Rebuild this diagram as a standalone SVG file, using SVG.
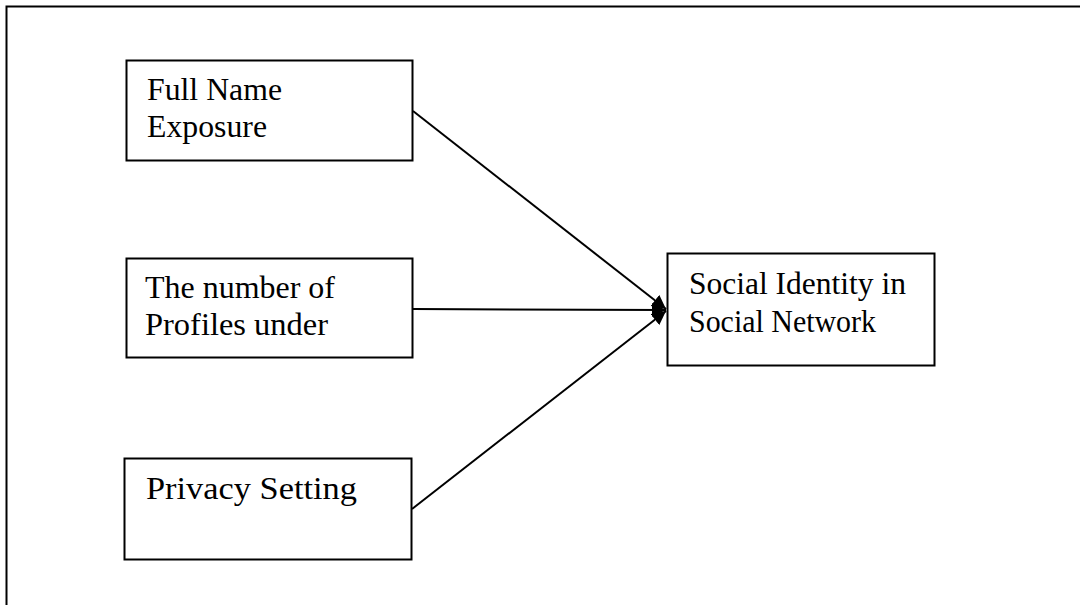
<svg xmlns="http://www.w3.org/2000/svg" width="1080" height="605" viewBox="0 0 1080 605">
<style>
.frame{fill:none;stroke:#000;stroke-width:2}
.box{fill:#fff;stroke:#000;stroke-width:2}
.lbl{font-family:"Liberation Serif","Times New Roman",serif;font-size:31px;fill:#000}
.conn{stroke:#000;stroke-width:2;fill:none}
</style>
<defs>
<marker id="ah" viewBox="0 0 10 10" refX="10" refY="5" markerWidth="7" markerHeight="7" orient="auto" markerUnits="strokeWidth">
<path d="M0,0 L10,5 L0,10 z" fill="#000"/>
</marker>
</defs>
<rect class="frame" x="6.5" y="6.5" width="1100" height="640"/>
<g id="connectors">
<line class="conn" x1="413" y1="111" x2="666" y2="309" marker-end="url(#ah)"/>
<line class="conn" x1="413" y1="309" x2="666" y2="310" marker-end="url(#ah)"/>
<line class="conn" x1="412" y1="509" x2="666" y2="311" marker-end="url(#ah)"/>
</g>
<g id="node-fullname">
<rect class="box" x="126.5" y="60.5" width="286" height="100"/>
<text class="lbl" x="147" y="100" textLength="135" lengthAdjust="spacingAndGlyphs">Full Name</text>
<text class="lbl" x="147" y="137" textLength="120" lengthAdjust="spacingAndGlyphs">Exposure</text>
</g>
<g id="node-profiles">
<rect class="box" x="126.5" y="258.5" width="286" height="99"/>
<text class="lbl" x="145" y="298" textLength="190" lengthAdjust="spacingAndGlyphs">The number of</text>
<text class="lbl" x="145" y="335" textLength="183" lengthAdjust="spacingAndGlyphs">Profiles under</text>
</g>
<g id="node-privacy">
<rect class="box" x="124.5" y="458.5" width="287" height="101"/>
<text class="lbl" x="146" y="499" textLength="211" lengthAdjust="spacingAndGlyphs">Privacy Setting</text>
</g>
<g id="node-social">
<rect class="box" x="667.5" y="253.5" width="267" height="112"/>
<text class="lbl" x="689" y="294" textLength="217" lengthAdjust="spacingAndGlyphs">Social Identity in</text>
<text class="lbl" x="689" y="332" textLength="187" lengthAdjust="spacingAndGlyphs">Social Network</text>
</g>
</svg>
